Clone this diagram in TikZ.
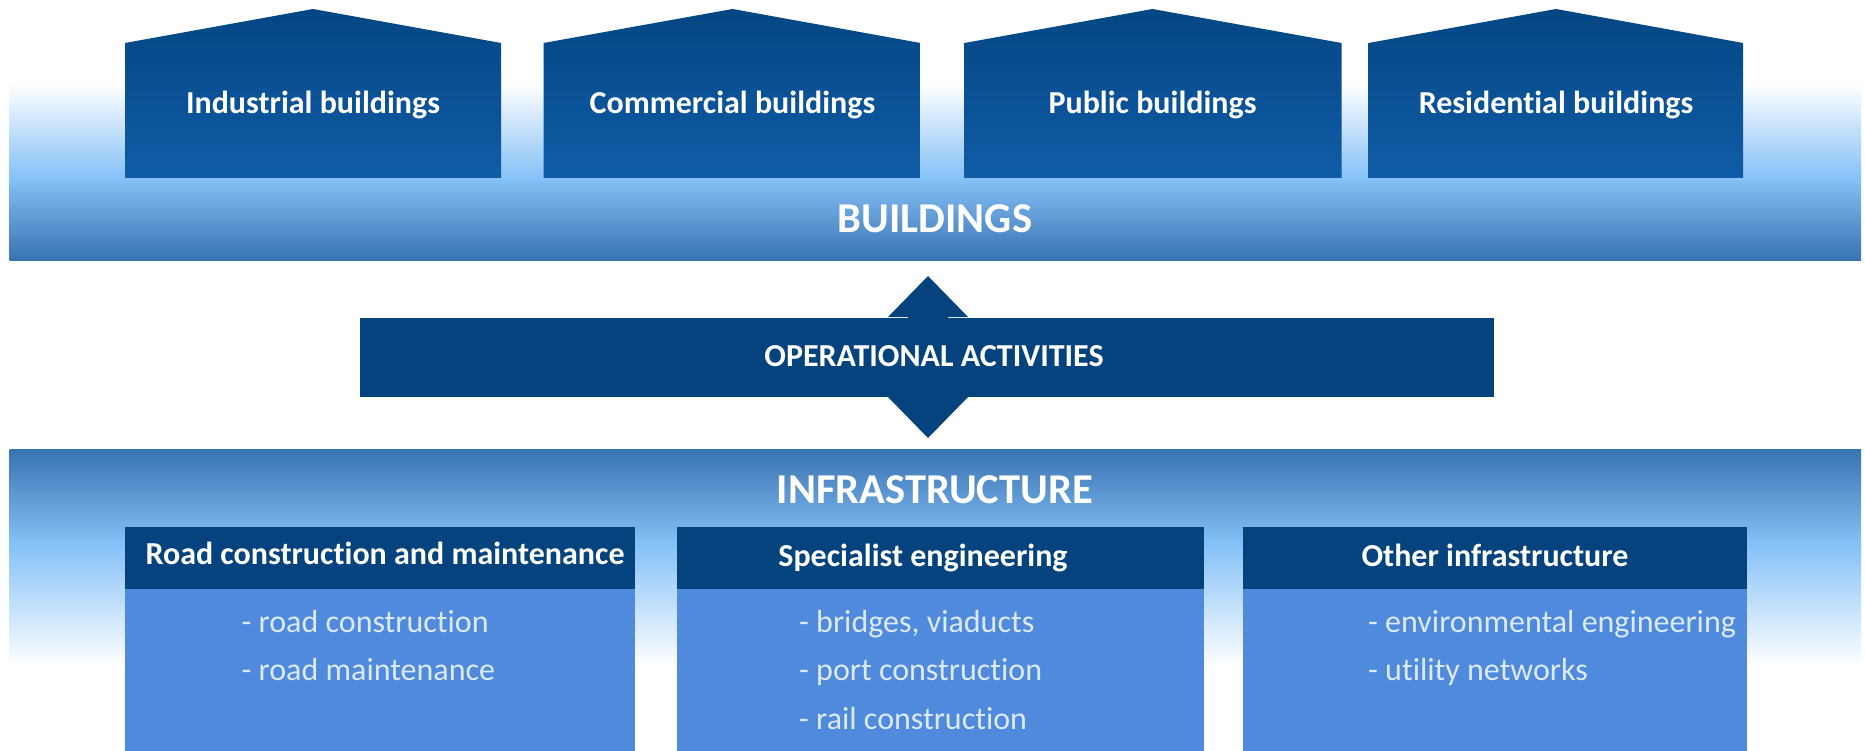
\documentclass[tikz,border=0pt]{standalone}
\usepackage{fontspec}
\setmainfont{Carlito}[Ligatures={NoCommon}]
\definecolor{hTop}{HTML}{034683}
\definecolor{hBot}{HTML}{115CA7}
\definecolor{navy}{HTML}{05437F}
\definecolor{bodyblue}{HTML}{4F8ADD}
\definecolor{bandDark}{HTML}{3873B2}
\definecolor{bandLight}{HTML}{86C1F7}
\definecolor{bodytxt}{HTML}{DCE9F9}
\begin{document}
\begin{tikzpicture}[x=1pt,y=-1pt,
  house/.style={top color=hTop,bottom color=hBot,draw=none},
  htext/.style={text=white,inner sep=0pt,anchor=base,font=\fontsize{32}{38}\selectfont\bfseries},
  bigtext/.style={text=white,inner sep=0pt,anchor=base,font=\fontsize{42.5}{48}\selectfont\bfseries},
  optext/.style={text=white,inner sep=0pt,anchor=base,font=\fontsize{32}{38}\selectfont\bfseries},
  hdrtext/.style={text=white,inner sep=0pt,anchor=base,font=\fontsize{32}{38}\selectfont\bfseries},
  bodytext/.style={text=bodytxt,inner sep=0pt,anchor=base west,font=\fontsize{32}{38}\selectfont}]
\useasboundingbox (0,0) rectangle (1865,751);
\fill[white] (0,0) rectangle (1865,751);
% top band
\shade[top color=white,bottom color=bandLight] (9.5,83) rectangle (1861,178);
\shade[top color=bandLight,bottom color=bandDark] (9.5,177.5) rectangle (1861,260.5);
% houses
\shade[house] (125,43) -- (313,9) -- (501,43) -- (501,178) -- (125,178) -- cycle;
\shade[house] (543.5,43) -- (732.5,9) -- (920.5,43) -- (920.5,178) -- (543.5,178) -- cycle;
\shade[house] (964.5,43) -- (1152.5,9) -- (1341.5,43) -- (1341.5,178) -- (964.5,178) -- cycle;
\shade[house] (1368.5,43) -- (1556,9) -- (1743,43) -- (1743,178) -- (1368.5,178) -- cycle;
\node[htext] (h1) at (313,114) {Industrial buildings};
\node[htext] (h2) at (732.5,114) {Commercial buildings};
\node[htext] (h3) at (1152.5,114) {Public buildings};
\node[htext] (h4) at (1556,114) {Residential buildings};
\node[bigtext] (bld) at (935,233) {BUILDINGS};
% operational activities
\fill[navy] (928,276) -- (968,317) -- (948,317) -- (948,397) -- (968,397) -- (928,438) -- (888,397) -- (908,397) -- (908,317) -- (888,317) -- cycle;
\fill[navy] (360,318) rectangle (1494,397);
\node[optext] (op) at (934,366) {OPERATIONAL ACTIVITIES};
% lower band
\shade[top color=bandDark,bottom color=bandLight] (9.5,449) rectangle (1861,545);
\shade[top color=bandLight,bottom color=white] (9.5,544.5) rectangle (1861,667);
\node[bigtext] (inf) at (935,503) {INFRASTRUCTURE};
% boxes
\fill[navy] (125,527) rectangle (635,589);
\fill[bodyblue] (125,589) rectangle (635,751);
\fill[navy] (677,527) rectangle (1204,589);
\fill[bodyblue] (677,589) rectangle (1204,751);
\fill[navy] (1243,527) rectangle (1747,589);
\fill[bodyblue] (1243,589) rectangle (1747,751);
\node[hdrtext] (t1) at (385,564.5) {Road construction and maintenance};
\node[hdrtext] (t2) at (923,566.5) {Specialist engineering};
\node[hdrtext] (t3) at (1495,566.5) {Other infrastructure};
\node[bodytext] (l11) at (241.5,632) {- road construction};
\node[bodytext] (l12) at (241.5,680) {- road maintenance};
\node[bodytext] (l21) at (799,632) {- bridges, viaducts};
\node[bodytext] (l22) at (799,680) {- port construction};
\node[bodytext] (l23) at (799,729) {- rail construction};
\node[bodytext] (l31) at (1368,632) {- environmental engineering};
\node[bodytext] (l32) at (1368,680) {- utility networks};
\end{tikzpicture}
\end{document}
